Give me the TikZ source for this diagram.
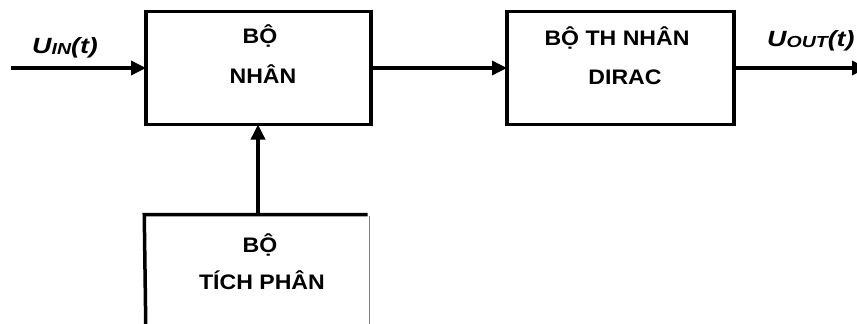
\documentclass[tikz,border=0pt]{standalone}
\usepackage{fontspec}
\setmainfont{Liberation Sans}[FakeStretch=1.1]
\newfontfamily\lblfont{Liberation Sans}[FakeStretch=1.22]
\usetikzlibrary{arrows.meta}
\begin{document}
\begin{tikzpicture}[x=1pt,y=-1pt,
  blockbox/.style={draw=black, line width=3.5pt, fill=none, inner sep=0pt, outer sep=0pt},
  arr/.style={draw=black, line width=3.5pt, -{Triangle[length=15pt,width=14pt]}},
  txt/.style={anchor=base, inner sep=0pt, font=\fontsize{21}{22}\selectfont\bfseries},
  lbl/.style={anchor=base west, inner sep=0pt, font=\lblfont\fontsize{22}{23}\selectfont\bfseries\itshape}]
\useasboundingbox (0,0) rectangle (857,324);
\clip (0,0) rectangle (857,324);
\fill[white] (0,0) rectangle (857,324);
% blocks
\node[blockbox, minimum width=225pt, minimum height=113pt] (box1) at (258.5,68) {};
\node[blockbox, minimum width=227pt, minimum height=113pt] (box2) at (620.5,68) {};
\node[blockbox, draw=none, minimum width=223pt, minimum height=126pt] (box3) at (257.5,277.5) {};
\draw[line width=3.5pt] ([yshift=-2pt]box3.south west) -- ([xshift=-1.75pt]box3.north west) -- ([xshift=-1.5pt]box3.north east);
\draw[gray, line width=0.8pt] ([yshift=-1.75pt]box3.north east) -- ([yshift=-2pt]box3.south east);
% texts
\node[txt] (t1a) at (260,43) {BỘ};
\node[txt] (t1b) at (263,83) {NHÂN};
\node[txt] (t2a) at (617,45) {BỘ TH NHÂN};
\node[txt] (t2b) at (625,84) {DIRAC};
\node[txt] (t3a) at (260,252) {BỘ};
\node[txt] (t3b) at (262,289) {TÍCH PHÂN};
% labels
\node[lbl] (lin) at (32,53) {U\raisebox{-1.5pt}{\fontsize{16}{16}\selectfont IN}(t)};
\node[lbl] (lout) at (767,46) {U\raisebox{-1.5pt}{\fontsize{16}{16}\selectfont OUT}(t)};
% connectors
\coordinate (in) at (11,68);
\coordinate (out) at (867,68);
\draw[arr] (in) -- (box1.west);
\draw[arr] (box1.east) -- (box2.west);
\draw[arr] (box2.east) -- (out);
\draw[arr] ([xshift=0.5pt]box3.north) -- ([xshift=0.5pt]box3.north |- box1.south);
\end{tikzpicture}
\end{document}
